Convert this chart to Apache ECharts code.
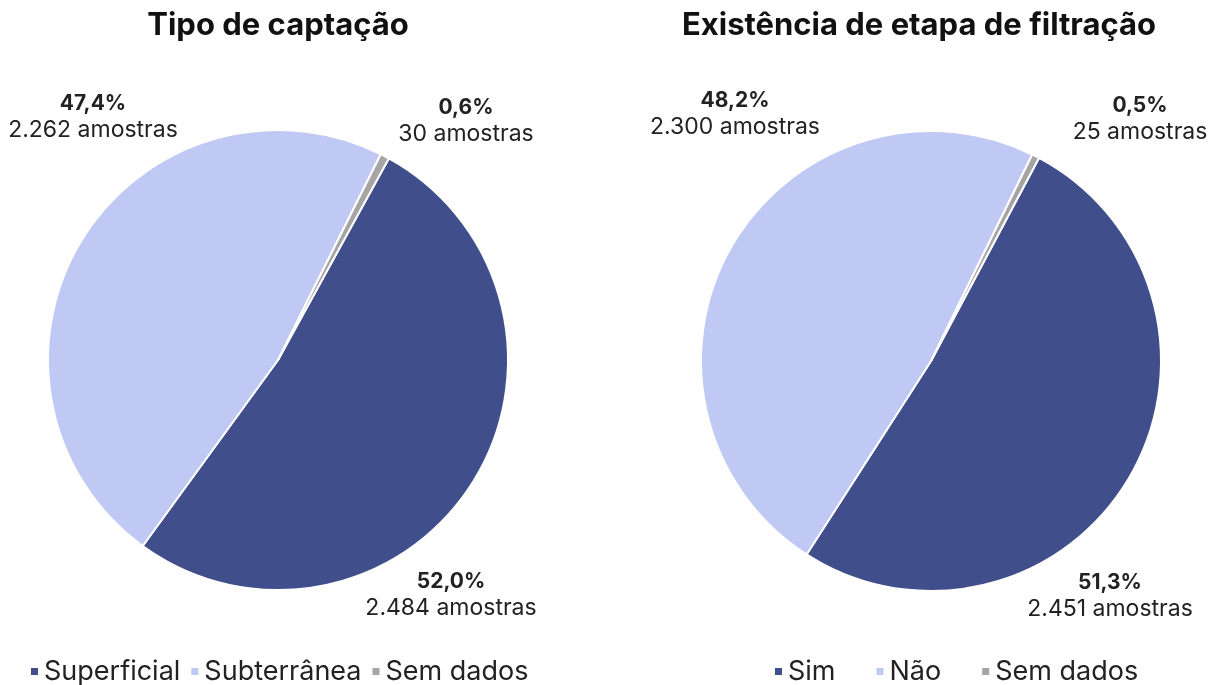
<!DOCTYPE html>
<html>
<head>
<meta charset="utf-8">
<script src="https://cdn.jsdelivr.net/npm/echarts@6/dist/echarts.min.js"></script>
<style>
html, body { margin: 0; padding: 0; background: #fff; }
#main { width: 1221px; height: 685px; }
</style>
</head>
<body>
<div id="main"></div>
<script>
// dados
var captacaoNomes = ['Superficial', 'Subterrânea', 'Sem dados'];
var captacaoValores = [2484, 2262, 30];
var filtracaoNomes = ['Sim', 'Não', 'Sem dados'];
var filtracaoValores = [2451, 2300, 25];

var cores = ['#414E8C', '#BFC9F4', '#A5A5A5'];
var fonte = 'Inter, "Noto Sans", sans-serif';

// posição (centro) de cada rótulo, como colocado manualmente no original
var rotulosCaptacao = [[451, 595], [93, 117], [466, 121]];
var rotulosFiltracao = [[1110, 596], [735, 114], [1140, 119]];

function milhar(n) {
	return String(n).replace(/\B(?=(\d{3})+(?!\d))/g, '.');
}

function montaDados(nomes, valores) {
	return nomes.map(function(n, i) {
		return { name: n, value: valores[i], itemStyle: { color: cores[i] } };
	});
}

function rotulo(params) {
	var pct = params.percent.toFixed(1).replace('.', ',');
	return '{p|' + pct + '%}\n{a|' + milhar(params.value) + ' amostras}';
}

var label = {
	show: true,
	position: 'outside',
	formatter: rotulo,
	overflow: 'none',
	align: 'center',
	rich: {
		p: { fontFamily: fonte, fontSize: 21, fontWeight: 'bold', color: '#222', lineHeight: 27, align: 'center' },
		a: { fontFamily: fonte, fontSize: 23, color: '#222', lineHeight: 27, align: 'center' }
	}
};

var chart = echarts.init(document.getElementById('main'));
var option = {
	animation: false,
	title: [{
		text: 'Tipo de captação',
		left: 273, top: 5, textAlign: 'center',
		textStyle: { fontFamily: fonte, fontSize: 31, fontWeight: 'bold', color: '#111' }
	}, {
		text: 'Existência de etapa de filtração',
		left: 914, top: 5, textAlign: 'center',
		textStyle: { fontFamily: fonte, fontSize: 31, fontWeight: 'bold', color: '#111' }
	}],
	legend: [{
		data: captacaoNomes,
		left: 24, top: 653,
		icon: 'rect', itemWidth: 9, itemHeight: 9, itemGap: 9,
		textStyle: { fontFamily: fonte, fontSize: 27, color: '#222' }
	}, {
		data: filtracaoNomes,
		left: 768, top: 653,
		icon: 'rect', itemWidth: 9, itemHeight: 9, itemGap: 39,
		textStyle: { fontFamily: fonte, fontSize: 27, color: '#222' }
	}],
	series: [{
		type: 'pie',
		center: [278, 360],
		radius: 230,
		startAngle: 61.2,
		clockwise: true,
		itemStyle: { borderColor: '#fff', borderWidth: 2 },
		label: label,
		labelLine: { show: false },
		labelLayout: function(p) {
			var pos = rotulosCaptacao[p.dataIndex];
			return { x: pos[0], y: pos[1], align: 'center', verticalAlign: 'middle' };
		},
		emphasis: { disabled: true },
		data: montaDados(captacaoNomes, captacaoValores)
	}, {
		type: 'pie',
		center: [931, 361],
		radius: 230,
		startAngle: 62,
		clockwise: true,
		itemStyle: { borderColor: '#fff', borderWidth: 2 },
		label: label,
		labelLine: { show: false },
		labelLayout: function(p) {
			var pos = rotulosFiltracao[p.dataIndex];
			return { x: pos[0], y: pos[1], align: 'center', verticalAlign: 'middle' };
		},
		emphasis: { disabled: true },
		data: montaDados(filtracaoNomes, filtracaoValores)
	}]
};
chart.setOption(option);
</script>
</body>
</html>
